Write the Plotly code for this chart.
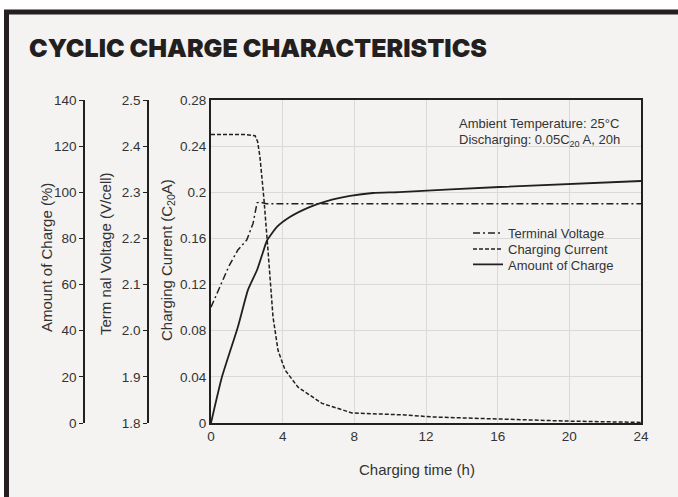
import plotly.graph_objects as go

W, H = 678, 497

# ---- data ----
time_current = [0, 1.0, 2.0, 2.46, 2.6, 2.73, 2.95, 3.18, 3.46, 3.74, 4.13, 4.86, 6.2, 7.87, 10.8, 12.4, 16.1, 19.8, 24]
current = [0.25, 0.25, 0.25, 0.249, 0.244, 0.231, 0.195, 0.150, 0.092, 0.063, 0.046, 0.031, 0.017, 0.0087, 0.007, 0.0052, 0.0035, 0.0017, 0.0005]

time_voltage = [0, 0.61, 1.0, 1.5, 2.0, 2.35, 2.57, 2.73, 3.1, 24]
voltage = [2.051, 2.103, 2.14, 2.175, 2.197, 2.233, 2.277, 2.279, 2.275, 2.275]

time_charge = [0, 0.61, 1.5, 2.06, 2.57, 2.9, 3.12, 3.68, 4.4, 5.5, 6.47, 7.76, 9.04, 10.5, 16.1, 24]
charge = [0, 19.9, 41.6, 57.6, 66.3, 74.0, 79.0, 85.0, 89.3, 93.6, 96.2, 98.4, 99.7, 100.1, 102.3, 104.9]

x_ticks = [0, 4, 8, 12, 16, 20, 24]
current_ticks = [0, 0.04, 0.08, 0.12, 0.16, 0.2, 0.24, 0.28]
voltage_ticks = [1.8, 1.9, 2.0, 2.1, 2.2, 2.3, 2.4, 2.5]
charge_ticks = [0, 20, 40, 60, 80, 100, 120, 140]

title_text = "CYCLIC CHARGE CHARACTERISTICS"
note_lines = ["Ambient Temperature: 25°C", "Discharging: 0.05C<sub>20</sub> A, 20h"]


def px(x):
    return x / W


def py(y):
    return 1 - y / H


INK = "#231f20"
TXT = "#333333"
FONT = "Liberation Sans, Arial, sans-serif"

fig = go.Figure()
fig.add_trace(go.Scatter(x=time_voltage, y=voltage, yaxis="y2", mode="lines",
                         name="Terminal Voltage", legend="legend",
                         line=dict(color=INK, width=1.5, dash="7px,3px,2px,3px")))
fig.add_trace(go.Scatter(x=time_current, y=current, yaxis="y", mode="lines",
                         name="Charging Current", legend="legend2",
                         line=dict(color=INK, width=1.5, dash="4px,2px")))
fig.add_trace(go.Scatter(x=time_charge, y=charge, yaxis="y3", mode="lines",
                         name="Amount of Charge", legend="legend3", line_shape="spline",
                         line=dict(color=INK, width=1.8, smoothing=0.5)))

x0, x1 = px(211), px(641)
y0, y1 = py(423), py(100)

leg_common = dict(xanchor="left", yanchor="middle", bgcolor="rgba(0,0,0,0)",
                  itemwidth=30, font=dict(size=13, color=TXT, family=FONT))

fig.update_layout(
    width=W, height=H,
    margin=dict(l=0, r=0, t=0, b=0, autoexpand=False),
    paper_bgcolor="white",
    plot_bgcolor="rgba(0,0,0,0)",
    font=dict(family=FONT, size=13, color=TXT),
    showlegend=True,
    legend=dict(x=px(468), y=py(233), **leg_common),
    legend2=dict(x=px(468), y=py(249), **leg_common),
    legend3=dict(x=px(468), y=py(264.5), **leg_common),
    xaxis=dict(domain=[x0, x1], range=[0, 24], tickvals=x_ticks,
               showgrid=True, gridcolor="#d9d9d9", gridwidth=1,
               showline=True, linecolor=INK, linewidth=2, mirror=True,
               ticks="", tickfont=dict(size=13.5, color=TXT), zeroline=False),
    yaxis=dict(domain=[y0, y1], range=[0, 0.28], tickvals=current_ticks,
               showgrid=True, gridcolor="#d9d9d9", gridwidth=1,
               showline=True, linecolor=INK, linewidth=2, mirror=True,
               ticks="", tickfont=dict(size=13.5, color=TXT), zeroline=False),
    yaxis2=dict(domain=[y0, y1], range=[1.8, 2.5], tickvals=voltage_ticks,
                tickformat=".1f", overlaying="y", anchor="free", position=px(148),
                side="left", showgrid=False, showline=True, linecolor=INK,
                linewidth=1.5, ticks="outside", ticklen=4, tickcolor=INK,
                tickfont=dict(size=13.5, color=TXT), zeroline=False),
    yaxis3=dict(domain=[y0, y1], range=[0, 140], tickvals=charge_ticks,
                overlaying="y", anchor="free", position=px(84),
                side="left", showgrid=False, showline=True, linecolor=INK,
                linewidth=1.5, ticks="outside", ticklen=4, tickcolor=INK,
                tickfont=dict(size=13.5, color=TXT), zeroline=False),
)

# frame
fig.add_shape(type="rect", xref="paper", yref="paper",
              x0=px(6.5), x1=1.05, y0=-0.05, y1=py(12),
              line=dict(color=INK, width=5), fillcolor="#f4f3f1", layer="below")

annotations = [
    dict(text=title_text, x=px(27), y=py(47.5), xanchor="left", yanchor="middle",
         font=dict(family="Inter, Liberation Sans, sans-serif", size=25, color=INK, weight=900)),
    dict(text="Charging time (h)", x=px(417), y=py(469), xanchor="center", yanchor="middle",
         font=dict(size=15, color=TXT)),
    dict(text="Amount of Charge (%)", x=px(46), y=py(258), textangle=-90,
         xanchor="center", yanchor="middle", font=dict(size=15, color=TXT)),
    dict(text="Term nal Voltage (V/cell)", x=px(105), y=py(254), textangle=-90,
         xanchor="center", yanchor="middle", font=dict(size=15, color=TXT)),
    dict(text="Charging Current (C<sub>20</sub>A)", x=px(167), y=py(260), textangle=-90,
         xanchor="center", yanchor="middle", font=dict(size=15, color=TXT)),
    dict(text=note_lines[0], x=px(457), y=py(124), xanchor="left", yanchor="middle",
         font=dict(size=13, color=TXT)),
    dict(text=note_lines[1], x=px(457), y=py(140), xanchor="left", yanchor="middle",
         font=dict(size=13, color=TXT)),
]
for a in annotations:
    a.update(xref="paper", yref="paper", showarrow=False)
    fig.add_annotation(**a)

fig.write_html("out.html", config={"displayModeBar": False},
               post_script="document.body.style.margin='0px';document.body.style.padding='0px';")
